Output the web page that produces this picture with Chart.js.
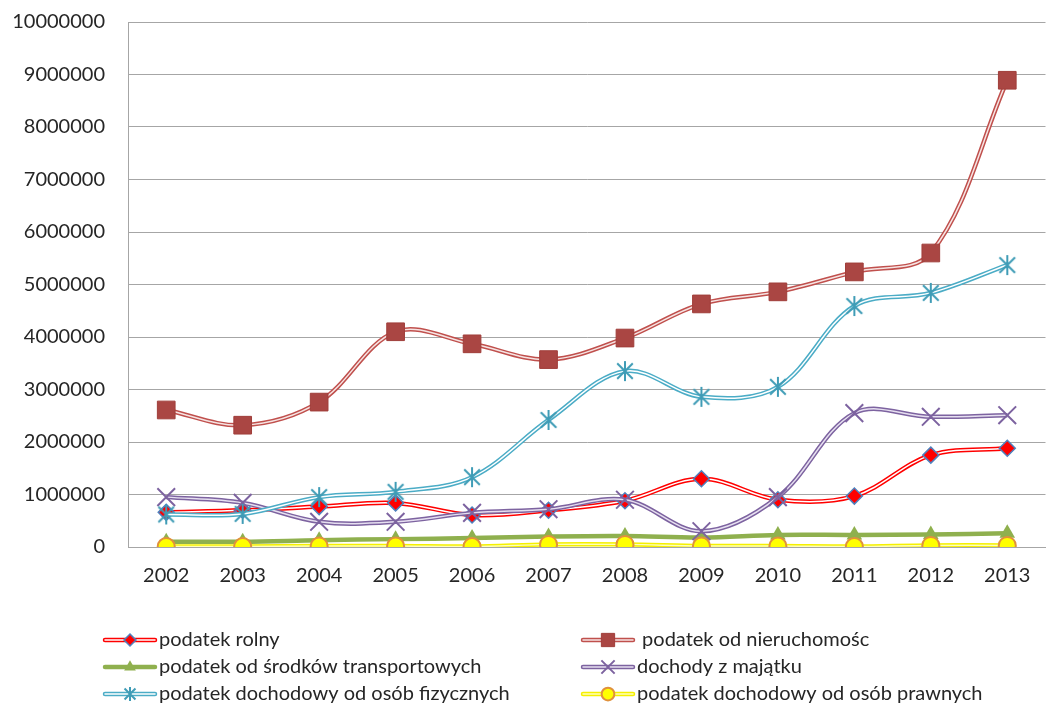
<!DOCTYPE html>
<html>
<head>
<meta charset="utf-8">
<script src="https://cdn.jsdelivr.net/npm/chart.js@4"></script>
<style>
  html, body { margin: 0; padding: 0; background: #fff; overflow: hidden; }
  #wrap { width: 1060px; height: 709px; position: relative; }
</style>
</head>
<body>
<div id="wrap"><canvas id="chart1"></canvas></div>
<script>
// data
const years = ["2002", "2003", "2004", "2005", "2006", "2007", "2008", "2009", "2010", "2011", "2012", "2013"];
const yTicks = [0, 1000000, 2000000, 3000000, 4000000, 5000000, 6000000, 7000000, 8000000, 9000000, 10000000];

const rolny = [660000, 700000, 770000, 840000, 610000, 700000, 880000, 1300000, 900000, 970000, 1750000, 1880000];
const nieruchomosci = [2610000, 2320000, 2760000, 4100000, 3870000, 3570000, 3980000, 4630000, 4860000, 5240000, 5600000, 8890000];
const transport = [100000, 100000, 130000, 150000, 170000, 200000, 210000, 180000, 230000, 230000, 240000, 260000];
const majatek = [950000, 840000, 480000, 480000, 650000, 720000, 900000, 300000, 950000, 2550000, 2480000, 2510000];
const fizyczne = [620000, 630000, 950000, 1050000, 1330000, 2420000, 3350000, 2860000, 3050000, 4590000, 4840000, 5370000];
const prawne = [10000, 10000, 20000, 20000, 10000, 50000, 50000, 20000, 20000, 10000, 30000, 30000];

const FONT = "Lato";
const TEXT = "#262626";
const GRID = "#a6a6a6";

// asterisk marker like the excel "star"
function makeStar(r, color) {
  let c = document.createElement("canvas");
  let s = Math.ceil(r * 2 + 4);
  c.width = s;
  c.height = s;
  let g = c.getContext("2d");
  let m = s / 2;
  g.strokeStyle = color;
  g.lineWidth = 2;
  g.beginPath();
  g.moveTo(m, m - r);
  g.lineTo(m, m + r);
  let d = r * 0.78;
  g.moveTo(m - d, m - d);
  g.lineTo(m + d, m + d);
  g.moveTo(m + d, m - d);
  g.lineTo(m - d, m + d);
  g.stroke();
  return c;
}

const series = [
  { label: "podatek rolny", data: rolny, color: "#ff0000", inner: "#ffffff",
    style: "rectRot", radius: 8, fill: "#ff0000", border: "#4f81bd", bw: 1.5 },
  { label: " podatek od nieruchomośc", data: nieruchomosci, color: "#c0504d", inner: "#f6e4e3",
    style: "rect", radius: 12.5, fill: "#aa4643", border: "#a03e3a", bw: 1 },
  { label: "podatek od środków transportowych", data: transport, color: "#8fb04e", inner: null,
    style: "triangle", radius: 9, fill: "#8fb04e", border: "#8fb04e", bw: 0 },
  { label: "dochody z majątku", data: majatek, color: "#7d63a0", inner: "#e6dff0",
    style: "crossRot", radius: 12.5, fill: "#7d63a0", border: "#7d63a0", bw: 2 },
  { label: "podatek dochodowy od osób fizycznych", data: fizyczne, color: "#4bacc6", inner: "#ffffff",
    style: makeStar(10, "#3f9cb6"), legendStyle: makeStar(7, "#3f9cb6"), radius: 10, fill: "#4bacc6", border: "#3f9cb6", bw: 2 },
  { label: "podatek dochodowy od osób prawnych", data: prawne, color: "#f5f000", inner: "#ffffb8",
    style: "circle", radius: 8.5, fill: "#ffff00", border: "#e0913c", bw: 2 },
];

const tension = 0.35;
let datasets = [];
series.forEach((s, i) => {
  datasets.push({
    data: s.data,
    borderColor: s.color,
    borderWidth: 4.5,
    pointRadius: 0,
    tension: tension,
    order: 1000 - 3 * i,
  });
  if (s.inner) {
    datasets.push({
      data: s.data,
      borderColor: s.inner,
      borderWidth: 1.5,
      pointRadius: 0,
      tension: tension,
      order: 1000 - 3 * i - 1,
    });
  }
  datasets.push({
    label: s.label,
    data: s.data,
    showLine: false,
    pointStyle: s.style,
    pointRadius: s.radius,
    pointBackgroundColor: s.fill,
    pointBorderColor: s.border,
    pointBorderWidth: s.bw,
    order: 1000 - 3 * i - 2,
  });
});

// legend in two columns, like the excel one
const legendSlots = [
  [105, 640], [583, 640],
  [105, 667], [583, 667],
  [105, 694], [583, 694],
];

const seriesLegend = {
  id: "seriesLegend",
  afterDraw(chart) {
    let ctx = chart.ctx;
    ctx.save();
    series.forEach((s, i) => {
      let x0 = legendSlots[i][0];
      let y = legendSlots[i][1];
      let w = 50;
      ctx.lineCap = "round";
      ctx.strokeStyle = s.color;
      ctx.lineWidth = 4.5;
      ctx.beginPath();
      ctx.moveTo(x0, y);
      ctx.lineTo(x0 + w, y);
      ctx.stroke();
      if (s.inner) {
        ctx.strokeStyle = s.inner;
        ctx.lineWidth = 1.5;
        ctx.beginPath();
        ctx.moveTo(x0, y);
        ctx.lineTo(x0 + w, y);
        ctx.stroke();
      }
      ctx.lineCap = "butt";
      ctx.fillStyle = s.fill;
      ctx.strokeStyle = s.border;
      ctx.lineWidth = s.bw;
      Chart.helpers.drawPoint(ctx, {
        pointStyle: s.legendStyle || s.style,
        radius: s.radius * 0.75,
        rotation: 0,
        borderWidth: s.bw,
      }, x0 + w / 2, y);
      ctx.fillStyle = TEXT;
      ctx.font = "20px " + FONT;
      ctx.textBaseline = "middle";
      ctx.textAlign = "left";
      ctx.fillText(s.label, x0 + w + 4, y);
    });
    ctx.restore();
  },
};

let chart1 = document.getElementById("chart1");
let config1 = {
  type: "line",
  data: {
    labels: years,
    datasets: datasets,
  },
  plugins: [seriesLegend],
  options: {
    responsive: true,
    maintainAspectRatio: false,
    animation: false,
    layout: {
      padding: { top: 22, right: 0, bottom: 112, left: 0 },
    },
    scales: {
      x: {
        offset: true,
        grid: { display: false, drawTicks: false },
        border: { display: true, color: GRID, width: 1 },
        ticks: {
          color: TEXT,
          padding: 17,
          maxRotation: 0,
          font: { family: FONT, size: 20 },
        },
        afterFit: (s) => { s.height = 50; },
      },
      y: {
        min: 0,
        max: 10000000,
        afterBuildTicks: (s) => { s.ticks = yTicks.map((v) => ({ value: v })); },
        grid: { color: GRID, lineWidth: 1, drawTicks: false },
        border: { display: true, color: GRID, width: 1 },
        ticks: {
          color: TEXT,
          padding: 23,
          font: { family: FONT, size: 20 },
          callback: (v) => String(v),
        },
        afterFit: (s) => {
          s.width = 128;
          s.paddingTop = 0;
          s.paddingBottom = 0;
        },
      },
    },
    plugins: {
      legend: { display: false },
      tooltip: { enabled: false },
    },
  },
};

let lineChart = new Chart(chart1, config1);
</script>
</body>
</html>
